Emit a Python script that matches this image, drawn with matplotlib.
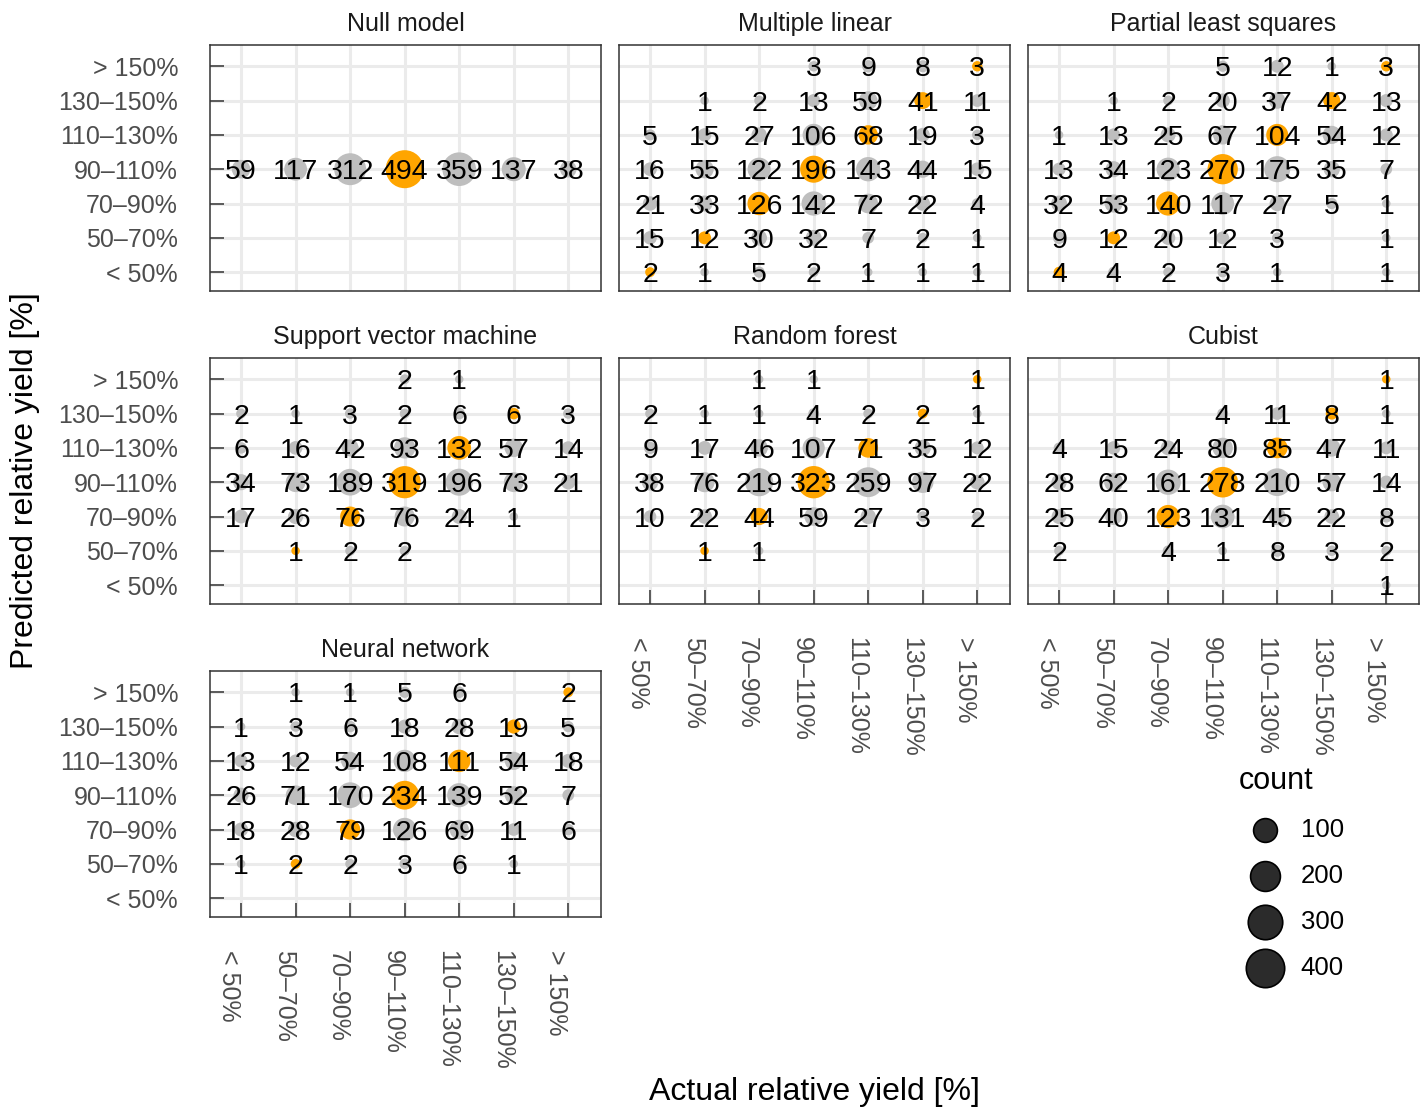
import matplotlib.pyplot as plt
import numpy as np

DPI = 100
plt.rcParams["font.family"] = ["Liberation Sans", "DejaVu Sans"]

CATEGORIES = ["< 50%", "50–70%", "70–90%", "90–110%", "110–130%", "130–150%", "> 150%"]

# rows: predicted class from "> 150%" (top) down to "< 50%"
# columns: actual class from "< 50%" to "> 150%"
null_model = [
    [0, 0, 0, 0, 0, 0, 0],
    [0, 0, 0, 0, 0, 0, 0],
    [0, 0, 0, 0, 0, 0, 0],
    [59, 117, 312, 494, 359, 137, 38],
    [0, 0, 0, 0, 0, 0, 0],
    [0, 0, 0, 0, 0, 0, 0],
    [0, 0, 0, 0, 0, 0, 0],
]
multiple_linear = [
    [0, 0, 0, 3, 9, 8, 3],
    [0, 1, 2, 13, 59, 41, 11],
    [5, 15, 27, 106, 68, 19, 3],
    [16, 55, 122, 196, 143, 44, 15],
    [21, 33, 126, 142, 72, 22, 4],
    [15, 12, 30, 32, 7, 2, 1],
    [2, 1, 5, 2, 1, 1, 1],
]
partial_least_squares = [
    [0, 0, 0, 5, 12, 1, 3],
    [0, 1, 2, 20, 37, 42, 13],
    [1, 13, 25, 67, 104, 54, 12],
    [13, 34, 123, 270, 175, 35, 7],
    [32, 53, 140, 117, 27, 5, 1],
    [9, 12, 20, 12, 3, 0, 1],
    [4, 4, 2, 3, 1, 0, 1],
]
support_vector_machine = [
    [0, 0, 0, 2, 1, 0, 0],
    [2, 1, 3, 2, 6, 6, 3],
    [6, 16, 42, 93, 132, 57, 14],
    [34, 73, 189, 319, 196, 73, 21],
    [17, 26, 76, 76, 24, 1, 0],
    [0, 1, 2, 2, 0, 0, 0],
    [0, 0, 0, 0, 0, 0, 0],
]
random_forest = [
    [0, 0, 1, 1, 0, 0, 1],
    [2, 1, 1, 4, 2, 2, 1],
    [9, 17, 46, 107, 71, 35, 12],
    [38, 76, 219, 323, 259, 97, 22],
    [10, 22, 44, 59, 27, 3, 2],
    [0, 1, 1, 0, 0, 0, 0],
    [0, 0, 0, 0, 0, 0, 0],
]
cubist = [
    [0, 0, 0, 0, 0, 0, 1],
    [0, 0, 0, 4, 11, 8, 1],
    [4, 15, 24, 80, 85, 47, 11],
    [28, 62, 161, 278, 210, 57, 14],
    [25, 40, 123, 131, 45, 22, 8],
    [2, 0, 4, 1, 8, 3, 2],
    [0, 0, 0, 0, 0, 0, 1],
]
neural_network = [
    [0, 1, 1, 5, 6, 0, 2],
    [1, 3, 6, 18, 28, 19, 5],
    [13, 12, 54, 108, 111, 54, 18],
    [26, 71, 170, 234, 139, 52, 7],
    [18, 28, 79, 126, 69, 11, 6],
    [1, 2, 2, 3, 6, 1, 0],
    [0, 0, 0, 0, 0, 0, 0],
]

MODEL_NAMES = ["Null model", "Multiple linear", "Partial least squares",
               "Support vector machine", "Random forest", "Cubist", "Neural network"]
MODEL_COUNTS = [null_model, multiple_linear, partial_least_squares,
                support_vector_machine, random_forest, cubist, neural_network]
LEGEND_BREAKS = [100, 200, 300, 400]

ORANGE = "#FFA500"
GREY = "#BEBEBE"
TICK_GREY = "#4D4D4D"

count_max = max(np.max(c) for c in MODEL_COUNTS)


def point_size(n):
    """Area scale like ggplot's scale_size (range 1-6), returned in pt^2."""
    n = np.asarray(n, dtype=float)
    d_px = 5.9 * (1 + 5 * np.sqrt((n - 1) / (count_max - 1))) + 2.6
    return (d_px * 72 / DPI) ** 2


fig = plt.figure(figsize=(14.24, 11.09), dpi=DPI)
W, H = 1424, 1109

col_left = [210, 619, 1028]
row_bottom = [291, 604, 917]
panel_w, panel_h = 391, 246

# (row, col) of each facet
slots = [(0, 0), (0, 1), (0, 2), (1, 0), (1, 1), (1, 2), (2, 0)]
x_label_slots = {(1, 1), (1, 2), (2, 0)}

pos = np.arange(1, len(CATEGORIES) + 1)

for name, counts, (r, c) in zip(MODEL_NAMES, MODEL_COUNTS, slots):
    ax = fig.add_axes([col_left[c] / W, 1 - row_bottom[r] / H, panel_w / W, panel_h / H])
    mat = np.array(counts)[::-1]  # row 0 -> "< 50%"
    pred_i, act_i = np.nonzero(mat)
    vals = mat[pred_i, act_i]
    colors = np.where(pred_i == act_i, ORANGE, GREY)

    ax.scatter(act_i + 1, pred_i + 1, s=point_size(vals), c=colors, linewidths=0, zorder=2)
    for x, y, v in zip(act_i + 1, pred_i + 1, vals):
        ax.text(x, y, str(v), ha="center", va="center_baseline", fontsize=20.5,
                color="black", zorder=3)

    ax.set_xlim(0.43, 7.6)
    ax.set_ylim(0.45, 7.62)
    ax.set_xticks(pos)
    ax.set_yticks(pos)
    ax.grid(True, color="#EBEBEB", linewidth=2.2, zorder=0)
    ax.set_axisbelow(True)
    for sp in ax.spines.values():
        sp.set_color("#333333")
        sp.set_linewidth(1.1)
    ax.set_title(name, fontsize=18, color="#1A1A1A", pad=10)

    show_y = c == 0
    show_x = (r, c) in x_label_slots
    ax.tick_params(axis="y", direction="in", length=10, width=1.1, color="#333333",
                   left=show_y, labelleft=show_y, labelsize=18, labelcolor=TICK_GREY, pad=23)
    ax.tick_params(axis="x", direction="in", length=10, width=1.1, color="#333333",
                   bottom=show_x, labelbottom=show_x, labelsize=18, labelcolor=TICK_GREY, pad=24)
    ax.set_yticklabels(CATEGORIES)
    ax.set_xticklabels(CATEGORIES, rotation=270, ha="right", va="top")

fig.text(814 / W, 1 - 1092 / H, "Actual relative yield [%]", ha="center", va="center",
         fontsize=23)
fig.text(25 / W, 1 - 481 / H, "Predicted relative yield [%]", ha="center", va="center",
         rotation=90, fontsize=23)

# size legend
handles = [plt.scatter([], [], s=point_size(b) * 1.2, c="#2B2B2B", edgecolors="black",
                       linewidths=1.2) for b in LEGEND_BREAKS]
leg = fig.legend(handles, [str(b) for b in LEGEND_BREAKS], title="count",
                 loc="upper left", bbox_to_anchor=(1226 / W, 1 - 753 / H),
                 frameon=False, fontsize=18.5, title_fontsize=22, labelspacing=0.86,
                 handletextpad=0.4, borderpad=0)
leg._legend_box.align = "left"

fig.savefig("out.png", dpi=DPI)
